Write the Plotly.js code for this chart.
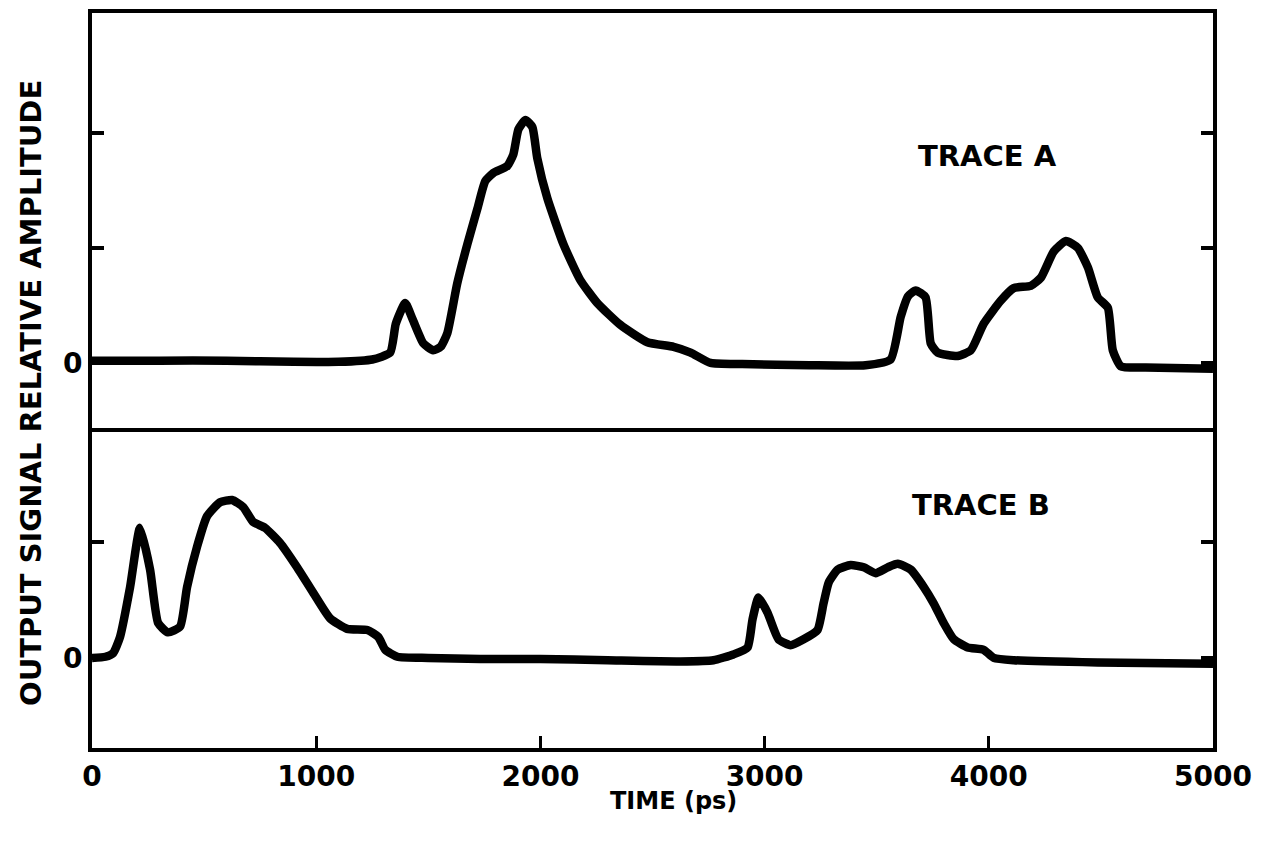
<!DOCTYPE html>
<html>
<head>
<meta charset="utf-8">
<script src="https://cdn.plot.ly/plotly-3.0.1.min.js"></script>
<style>html,body{margin:0;padding:0;background:#fff;}#chart{width:1261px;height:843px;}</style>
</head>
<body>
<div id="chart"></div>
<script>
// Trace A (upper panel): time in ps, relative amplitude
const timeA = [0,300,600,900,1100,1250,1330,1355,1397,1430,1478,1522,1555,1585,1629,1674,1719,1754,1790,1852,1879,1902,1933,1964,1986,2031,2103,2178,2254,2357,2477,2594,2670,2759,2900,3200,3450,3562,3607,3640,3674,3718,3741,3772,3861,3920,3977,4053,4111,4187,4232,4290,4344,4397,4442,4486,4531,4553,4589,4700,5000];
const ampA = [0.02,0.02,0.02,0.01,0.01,0.03,0.09,0.34,0.52,0.38,0.17,0.11,0.14,0.26,0.69,1.03,1.34,1.58,1.65,1.71,1.81,2.03,2.11,2.05,1.78,1.43,1.03,0.72,0.52,0.33,0.18,0.14,0.09,0.0,-0.01,-0.02,-0.02,0.03,0.40,0.58,0.63,0.57,0.17,0.09,0.06,0.11,0.34,0.54,0.65,0.67,0.74,0.97,1.06,1.00,0.83,0.57,0.48,0.11,-0.03,-0.04,-0.05];
// Trace B (lower panel)
const timeB = [0,60,94,125,170,214,259,295,339,393,424,469,513,571,625,674,719,772,839,915,987,1062,1138,1228,1277,1308,1362,1500,1732,2000,2300,2625,2772,2861,2924,2946,2973,3013,3062,3116,3174,3236,3263,3286,3326,3384,3442,3495,3549,3594,3652,3710,3754,3799,3844,3906,3977,4022,4111,4486,5000];
const ampB = [0,0.01,0.04,0.18,0.61,1.12,0.76,0.30,0.22,0.27,0.61,0.96,1.22,1.34,1.36,1.30,1.17,1.12,0.99,0.78,0.56,0.34,0.25,0.24,0.18,0.07,0.01,0.0,-0.01,-0.01,-0.02,-0.03,-0.02,0.03,0.09,0.33,0.52,0.39,0.16,0.11,0.16,0.24,0.47,0.65,0.76,0.80,0.78,0.73,0.78,0.81,0.76,0.61,0.47,0.30,0.16,0.09,0.07,0.0,-0.02,-0.04,-0.05];

const xTickVals = [0,1000,2000,3000,4000,5000];
const xTickText = ['0','1000','2000','3000','4000','5000'];
const yTickValsA = [0,1,2];
const yTickTextA = ['0','',''];
const yTickValsB = [0,1];
const yTickTextB = ['0',''];

const FONT = 'DejaVu Sans';
const lineStyle = {color:'#000', width:8.5, shape:'spline', smoothing:0.5};

const data = [
  {x:timeA, y:ampA, xaxis:'x2', yaxis:'y2', mode:'lines', line:lineStyle, hoverinfo:'skip'},
  {x:timeB, y:ampB, xaxis:'x', yaxis:'y', mode:'lines', line:lineStyle, hoverinfo:'skip'}
];

const bottomDom = 320/735;
const layout = {
  width:1261, height:843,
  margin:{l:92, r:48, t:13, b:95},
  paper_bgcolor:'#fff', plot_bgcolor:'#fff',
  showlegend:false,
  font:{family:FONT, color:'#000', size:26, weight:'bold'},
  xaxis:{domain:[0,1], anchor:'y', range:[0,5000], tickvals:xTickVals, ticktext:xTickText,
    ticks:'inside', ticklen:12, tickwidth:3, tickcolor:'#000', showline:true, linewidth:4, linecolor:'#000',
    mirror:false, showgrid:false, zeroline:false, tickfont:{family:FONT, size:28, weight:'bold'}},
  yaxis:{domain:[0,bottomDom], anchor:'x', range:[-0.776,1.98], tickvals:yTickValsB, ticktext:yTickTextB,
    ticks:'inside', ticklen:12, tickwidth:4, tickcolor:'#000', showline:true, linewidth:4, linecolor:'#000',
    mirror:'ticks', showgrid:false, zeroline:false, tickfont:{family:FONT, size:28, weight:'bold'}},
  xaxis2:{domain:[0,1], anchor:'y2', range:[0,5000], showticklabels:false, ticks:'',
    showline:true, linewidth:4, linecolor:'#000', mirror:true, showgrid:false, zeroline:false},
  yaxis2:{domain:[bottomDom,1], anchor:'x2', range:[-0.565,3.04], tickvals:yTickValsA, ticktext:yTickTextA,
    ticks:'inside', ticklen:12, tickwidth:4, tickcolor:'#000', showline:true, linewidth:4, linecolor:'#000',
    mirror:'ticks', showgrid:false, zeroline:false, tickfont:{family:FONT, size:28, weight:'bold'}},
  annotations:[
    {text:'OUTPUT SIGNAL RELATIVE AMPLITUDE', xref:'paper', yref:'paper', x:-0.0544, y:0.483,
     textangle:-90, showarrow:false, xanchor:'center', yanchor:'middle', font:{family:FONT, size:29, weight:'bold'}},
    {text:'TIME (ps)', xref:'paper', yref:'paper', x:0.5185, y:-0.072, showarrow:false,
     xanchor:'center', yanchor:'middle', font:{family:FONT, size:24, weight:'bold'}},
    {text:'TRACE A', xref:'paper', yref:'paper', x:0.799, y:0.8054, showarrow:false,
     xanchor:'center', yanchor:'middle', font:{family:FONT, size:29, weight:'bold'}},
    {text:'TRACE B', xref:'paper', yref:'paper', x:0.793, y:0.3306, showarrow:false,
     xanchor:'center', yanchor:'middle', font:{family:FONT, size:29, weight:'bold'}}
  ]
};

Plotly.newPlot('chart', data, layout, {staticPlot:true, displayModeBar:false});
</script>
</body>
</html>
